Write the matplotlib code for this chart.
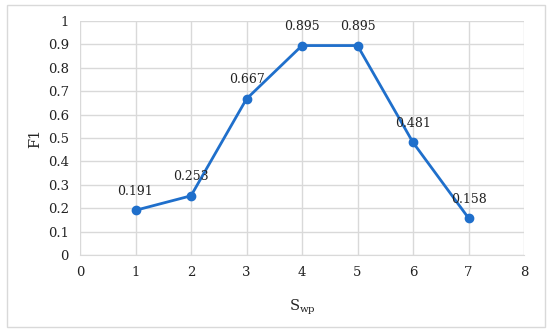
import matplotlib
matplotlib.use("Agg")
import matplotlib.pyplot as plt
from matplotlib.patches import Rectangle

x_vals = [1, 2, 3, 4, 5, 6, 7]
f1_vals = [0.191, 0.253, 0.667, 0.895, 0.895, 0.481, 0.158]
x_ticks = [0, 1, 2, 3, 4, 5, 6, 7, 8]
y_ticks = [0, 0.1, 0.2, 0.3, 0.4, 0.5, 0.6, 0.7, 0.8, 0.9, 1]
y_tick_labels = ["0", "0.1", "0.2", "0.3", "0.4", "0.5", "0.6", "0.7", "0.8", "0.9", "1"]

plt.rcParams['font.family'] = ['DejaVu Serif']
W, H = 550, 333
fig = plt.figure(figsize=(W/100, H/100), dpi=100)
fig.patches.append(Rectangle((7/W, 1-327/H), (545-7)/W, (327-5)/H, transform=fig.transFigure,
                             fill=False, edgecolor='#d9d9d9', linewidth=1))
ax = fig.add_axes([80/W, 1-255/H, (524-80)/W, (255-21)/H])
color = '#1f6fcb'
ax.plot(x_vals, f1_vals, color=color, linewidth=2, marker='o', markersize=6, zorder=3)
for x, y in zip(x_vals, f1_vals):
    ax.annotate(f"{y:.3f}", (x, y), xytext=(0, 9), textcoords='offset points',
                ha='center', va='bottom', fontsize=9, color='#222222')
ax.set_xlim(0, 8)
ax.set_ylim(0, 1)
ax.set_xticks(x_ticks)
ax.set_yticks(y_ticks)
ax.set_yticklabels(y_tick_labels)
ax.grid(True, color='#d9d9d9', linewidth=1)
ax.set_axisbelow(True)
for s in ax.spines.values():
    s.set_visible(False)
ax.spines['bottom'].set_visible(True)
ax.spines['bottom'].set_color('#d9d9d9')
ax.tick_params(length=0, labelsize=9.5, colors='#222222', pad=8)
ax.set_xlabel(r"S$_{\mathregular{wp}}$", fontsize=10.5, color='#222222', labelpad=13)
ax.set_ylabel("F1", fontsize=10.5, color='#222222', labelpad=4)
fig.savefig("out.png", dpi=100)
